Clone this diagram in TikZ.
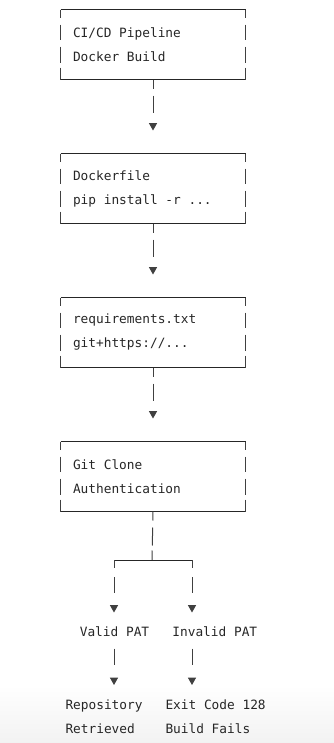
\documentclass[tikz,border=0pt]{standalone}
\usepackage{fontspec}
\newfontfamily\asciifont{DejaVu Sans Mono}
\usetikzlibrary{arrows.meta}

\newcommand{\boxrows}[2]{\parbox{120pt}{#1\\#2}}

\tikzset{every picture/.style={line width=0.75pt}}
\tikzset{
  asciifnt/.style={font=\asciifont\fontsize{9.6}{18}\selectfont, text=black!85},
  asciibox/.style={asciifnt, inner sep=0pt, minimum width=138pt, minimum height=51.75pt},
  boxline/.style={draw=black!85},
  boxside/.style={draw=black!75, dash pattern=on 6pt off 5.25pt on 11.25pt off 5.25pt on 12pt off 3.75pt on 9pt},
  asciilink/.style={draw=black!75, -{Triangle[width=6pt,length=5.5pt]}, shorten >=17.25pt,
    dash pattern=on 6.75pt off 5.25pt on 12.75pt off 30pt},
  asciilabel/.style={asciifnt, inner sep=0pt, text height=7.5pt, text depth=2.25pt},
  asciiresult/.style={asciifnt, inner sep=0pt, anchor=north west, align=left},
  dropline/.style={draw=black!75, -{Triangle[width=6pt,length=5.5pt]}, shorten >=10.2pt,
    dash pattern=on 6pt off 6.75pt on 12pt off 30pt},
  droplow/.style={draw=black!75, -{Triangle[width=6pt,length=5.5pt]}, shorten >=10.5pt,
    dash pattern=on 0pt off 6.3pt on 12pt off 30pt},
}

\begin{document}
\begin{tikzpicture}[x=0.75pt,y=0.75pt,yscale=-1,xscale=1]
\useasboundingbox (0,0) rectangle (334,743);

% faint band at the bottom
\shade [top color=white, bottom color=black!5, draw=none] (0,685) rectangle (334,743);

% Boxes
\node [asciibox] (pipeline) at (153,44.5) {\boxrows{CI/CD Pipeline}{Docker Build}};
\node [asciibox] (dockerfile) at (153,188.5) {\boxrows{Dockerfile}{pip install -r ...}};
\node [asciibox] (reqs) at (153,332.5) {\boxrows{requirements.txt}{git+https://...}};
\node [asciibox] (gitclone) at (153,476.5) {\boxrows{Git Clone}{Authentication}};

\foreach \b in {pipeline,dockerfile,reqs,gitclone}{
  \draw [boxline] (\b.north west) -- (\b.north east);
  \draw [boxline] (\b.south west) -- (\b.south east);
  \draw [boxside] (\b.north west) -- (\b.south west);
  \draw [boxside] (\b.north east) -- (\b.south east);
}

% Links between boxes
\draw [asciilink] (pipeline) -- (dockerfile);
\draw [asciilink] (dockerfile) -- (reqs);
\draw [asciilink] (reqs) -- (gitclone);

% Split
\coordinate (split) at (152,560);
\coordinate (fork-l) at (114,560);
\coordinate (fork-r) at (192,560);
\draw [draw=black!75, dash pattern=on 6.75pt off 5.25pt on 13.5pt off 3.75pt on 8pt] (gitclone.south) -- (split);
\draw [boxline] (fork-l) -- (fork-r);

% Outcomes
\node [asciilabel] (valid) at (114.5,633.1) {Valid PAT};
\node [asciilabel] (invalid) at (214.8,633.1) {Invalid PAT};
\node [asciiresult] (repo) at (65,699) {Repository\\Retrieved};
\node [asciiresult] (exitcode) at (165,699) {Exit Code 128\\Build Fails};

\draw [dropline] (fork-l) -- (fork-l |- valid.north);
\draw [dropline] (fork-r) -- (fork-r |- invalid.north);
\draw [droplow] (fork-l |- valid.south) -- (fork-l |- repo.north);
\draw [droplow] (fork-r |- invalid.south) -- (fork-r |- exitcode.north);

\end{tikzpicture}
\end{document}
